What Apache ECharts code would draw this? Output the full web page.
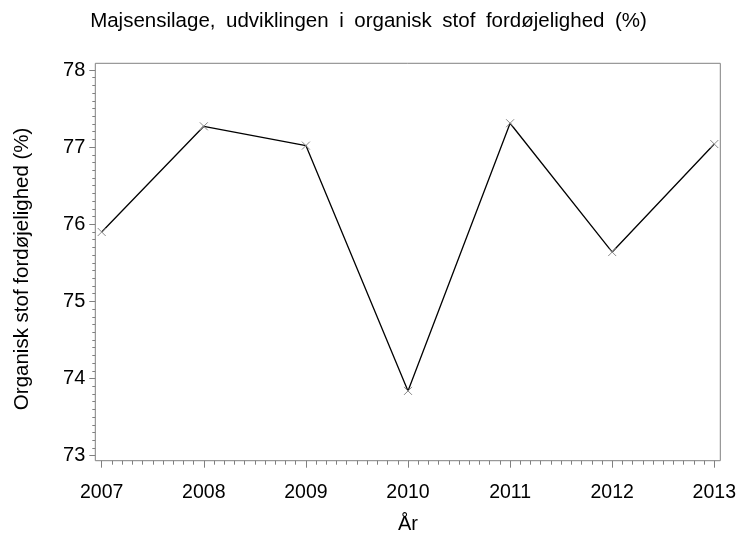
<!DOCTYPE html>
<html><head><meta charset="utf-8">
<script src="https://cdn.jsdelivr.net/npm/echarts@6/dist/echarts.min.js"></script>
<style>html,body{margin:0;padding:0;background:#fff}#c{width:737px;height:537px}</style>
</head><body><div id="c"></div>
<script>
var years = [2007, 2008, 2009, 2010, 2011, 2012, 2013];
var values = [75.90, 77.27, 77.02, 73.84, 77.31, 75.64, 77.04];
var yTicks = [73, 74, 75, 76, 77, 78];
var title = 'Majsensilage, udviklingen i organisk stof fordøjelighed (%)';
var yName = 'Organisk stof fordøjelighed (%)';
var xName = 'År';

var font = 'Liberation Sans, Arial, sans-serif';
var gray = '#808080';
var titleRich = title.split(' ').map(function(w){return '{w|' + w + '}';}).join(' ');
var chart = echarts.init(document.getElementById('c'));
chart.setOption({
  animation: false,
  title: {text: titleRich, left: 'center', top: 6,
    textStyle: {fontFamily: font, fontSize: 20, fontWeight: 'normal', color: '#000',
      rich: {w: {fontFamily: font, fontSize: 20.5, color: '#000', padding: [0, 2.5]}}}},
  grid: [
    {left: 101.7, right: 22.7, top: 70, bottom: 81.3, containLabel: false, outerBoundsMode: 'none'},
    {left: 95.3, right: 16.7, top: 63.3, bottom: 76.3, containLabel: false, outerBoundsMode: 'none',
     show: true, borderColor: gray, borderWidth: 1, backgroundColor: 'transparent'}
  ],
  xAxis: [
    {type: 'value', gridIndex: 0, min: years[0], max: years[years.length-1], interval: 1, offset: 5,
     name: xName, nameLocation: 'middle', nameGap: 54,
     nameTextStyle: {fontFamily: font, fontSize: 20, color: '#000'},
     axisLine: {show: false},
     axisTick: {show: true, length: 7, lineStyle: {color: gray}},
     minorTick: {show: true, splitNumber: 10, length: 4, lineStyle: {color: gray}},
     axisLabel: {fontFamily: font, fontSize: 19.5, color: '#000', margin: 22, formatter: function(v){return String(v);}},
     splitLine: {show: false}},
    {type: 'value', gridIndex: 1, show: false, min: 0, max: 1}
  ],
  yAxis: [
    {type: 'value', gridIndex: 0, min: yTicks[0], max: yTicks[yTicks.length-1], interval: 1, offset: 6.4,
     name: yName, nameLocation: 'middle', nameGap: 62, nameRotate: 90,
     nameTextStyle: {fontFamily: font, fontSize: 20.5, color: '#000', padding: [0, 12, 0, 0]},
     axisLine: {show: false},
     axisTick: {show: true, length: 6, lineStyle: {color: gray}},
     minorTick: {show: true, splitNumber: 10, length: 3, lineStyle: {color: gray}},
     axisLabel: {fontFamily: font, fontSize: 20, color: '#000', margin: 10},
     splitLine: {show: false}},
    {type: 'value', gridIndex: 1, show: false, min: 0, max: 1}
  ],
  series: [{
    type: 'line', xAxisIndex: 0, yAxisIndex: 0,
    data: years.map(function(y, i){return [y, values[i]];}),
    lineStyle: {color: '#000', width: 1.3},
    symbol: 'path://M0,0L10,10M10,0L0,10', symbolSize: 8,
    itemStyle: {color: 'none', borderColor: '#888', borderWidth: 1},
    clip: false
  }]
});
</script></body></html>
